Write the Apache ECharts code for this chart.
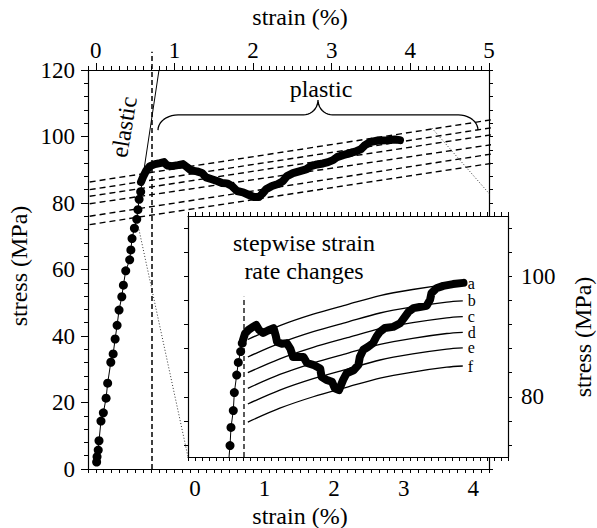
<!DOCTYPE html>
<html><head><meta charset="utf-8">
<script src="https://cdn.jsdelivr.net/npm/echarts@6/dist/echarts.min.js"></script>
<style>html,body{margin:0;padding:0;background:#fff}#c{width:597px;height:528px}</style>
</head><body><div id="c"></div>
<script>
// ---------- main chart data (strain %, stress MPa) ----------
const mainElasticStrain = [0.01,0.015,0.03,0.04,0.065,0.095,0.13,0.15,0.19,0.22,0.245,0.27,0.295,0.33,0.35,0.38,0.43,0.445,0.46,0.49,0.52,0.535,0.55,0.57];
const mainElasticStress = [2.1,3.7,5.7,8.5,14.4,16.9,21.3,25.8,32.1,34.6,39.1,43.2,47.8,51.8,55.3,59.6,62.9,65.9,69.3,72.4,75.1,78.0,81.1,83.4];
const elasticFitStrain = [0.57,0.803];
const elasticFitStress = [83.4,120];
const mainPlasticStrain = [0.574,0.600,0.638,0.689,0.752,0.816,0.867,0.905,0.968,1.045,1.108,1.159,1.210,1.286,1.350,1.401,1.465,1.541,1.604,1.668,1.731,1.795,1.872,1.948,2.011,2.075,2.113,2.164,2.240,2.317,2.380,2.431,2.507,2.597,2.673,2.736,2.813,2.889,2.953,3.016,3.067,3.143,3.232,3.308,3.372,3.423,3.486,3.588,3.702,3.804,3.868];
const mainPlasticStress = [86.3,87.8,89.6,91.1,91.7,92.0,92.3,91.3,91.1,91.4,91.7,90.8,89.8,89.5,89.0,87.7,87.2,86.6,86.0,85.9,85.1,83.6,83.2,82.4,81.8,81.8,82.7,84.1,85.1,85.7,86.6,88.1,89.0,89.6,90.1,91.1,91.6,91.9,92.3,92.9,93.8,94.4,95.0,95.5,96.2,97.4,98.3,98.8,98.9,99.1,98.9];
// dashed constant-rate lines: stress at left end and right end
const dashStrainEnds = [-0.33, 5.08];
const dashStressLeft  = [85.4, 83.1, 81.1, 78.9, 75.1, 72.6];
const dashStressRight = [105.2, 102.8, 100.7, 97.7, 94.9, 92.1];
const yieldStrainMain = 0.714;
// ---------- inset data ----------
const insetElasticStrain = [0.49,0.504,0.518,0.551,0.566,0.60,0.623,0.657,0.68];
const insetElasticStress = [70,71.9,74.9,77.7,80.7,83.6,85.7,87.5,88.9];
const insetPlasticStrain = [0.69,0.72,0.77,0.82,0.88,0.92,0.98,1.05,1.13,1.16,1.18,1.25,1.32,1.37,1.41,1.56,1.61,1.70,1.80,1.82,1.89,1.97,2.01,2.07,2.13,2.18,2.28,2.35,2.37,2.42,2.49,2.56,2.61,2.66,2.73,2.85,2.95,3.02,3.07,3.14,3.23,3.33,3.38,3.40,3.47,3.57,3.71,3.86];
const insetPlasticStress = [89.4,90.5,91.1,91.5,91.9,91.1,90.6,91.0,91.4,90.2,89.1,88.8,88.9,88.0,86.6,86.6,85.6,85.3,84.7,83.3,82.8,82.5,81.4,81.1,82.8,83.9,84.4,85.3,86.6,87.8,88.3,88.9,90.0,90.8,91.4,91.6,92.2,93.3,94.1,94.7,94.9,95.1,96.1,97.2,98.0,98.4,98.7,98.9];
const rateCurveStrain = [0.76,1.22,1.70,2.19,2.66,3.13,3.62,3.85];
const rateCurveNames = ['a','b','c','d','e','f'];
const rateCurveA = [89.5,91.8,93.7,95.3,96.8,97.8,98.6,98.8];
const rateCurveB = [86.6,88.9,90.8,92.4,93.9,94.9,95.7,95.9];
const rateCurveC = [84.0,86.3,88.2,89.8,91.3,92.3,93.1,93.3];
const rateCurveD = [81.4,83.7,85.6,87.2,88.7,89.7,90.5,90.7];
const rateCurveE = [78.8,81.1,83.0,84.6,86.1,87.1,87.9,88.1];
const rateCurveF = [75.8,78.1,80.0,81.6,83.1,84.1,84.9,85.1];
const yieldStrainInset = 0.705;
// ---------- tick labels ----------
const mainStrainLabels = [0,1,2,3,4,5];
const mainStressLabels = [0,20,40,60,80,100,120];
const insetStrainLabels = [0,1,2,3,4];
const insetStressLabels = [80,100];

const F = 'Liberation Serif';
function steps(a, b, s) { const r = []; for (let v = a; v <= b + 1e-9; v += s) r.push(+v.toFixed(4)); return r; }
const zip = (xs, ys) => xs.map((x, i) => [x, ys[i]]);

const mainStrainTicks = steps(-0.1, 5, 0.1);
const mainStressTicks = steps(0, 120, 4);
const insetStrainTicks = steps(-0.1, 4.5, 0.1);
const insetStressTicks = steps(72, 108, 4);

function ax(o) {
  return Object.assign({
    type: 'value', splitLine: {show: false},
    axisLine: {show: o.line !== false, onZero: false, lineStyle: {color: '#000', width: 1.2}},
    axisTick: {show: true, inside: false, length: o.len || 4, customValues: o.ticks, lineStyle: {color: '#000', width: 1}},
    axisLabel: o.labels ? {show: true, customValues: o.labels, margin: o.margin || 8, fontFamily: F, fontSize: 23, color: '#000'} : {show: false}
  }, o.base);
}

// brace built from quarter-ellipse arcs (annotation shape)
function arc(cx, cy, rx, ry, a0, a1) {
  const pts = []; const n = 10;
  for (let i = 0; i <= n; i++) { const t = (a0 + (a1 - a0) * i / n) * Math.PI / 180; pts.push([cx + rx * Math.cos(t), cy + ry * Math.sin(t)]); }
  return pts;
}
const braceLeft = 0.79, braceCusp = 2.825, braceRight = 4.86, braceLow = 101.9, braceMid = 106.5, braceTop = 111;
const brace = [].concat(
  arc(1.045, braceLow, 1.045 - braceLeft, braceMid - braceLow, 180, 90),
  arc(2.64, braceTop, braceCusp - 2.64, braceTop - braceMid, 270, 360),
  arc(3.01, braceTop, 3.01 - braceCusp, braceTop - braceMid, 180, 270),
  arc(4.61, braceLow, braceRight - 4.61, braceMid - braceLow, 90, 0)
);
const zoomLineA = [[0.54, 72.9], [1.172, 3.6]];
const zoomLineB = [[4.275, 102.5], [5.24, 76.4]];

const series = [];
const M = {xAxisIndex: 0, yAxisIndex: 0};
const I = {xAxisIndex: 2, yAxisIndex: 2, z: 7};
dashStressLeft.forEach((v, i) => series.push(Object.assign({type: 'line', symbol: 'none', clip: false, z: 2,
  data: [[dashStrainEnds[0], v], [dashStrainEnds[1], dashStressRight[i]]],
  lineStyle: {color: '#000', width: 1.4, type: [6, 4]}}, M)));
series.push(Object.assign({type: 'line', symbol: 'none', clip: false, z: 2, data: [[yieldStrainMain, 0], [yieldStrainMain, 125.5]],
  lineStyle: {color: '#000', width: 1.5, type: [5, 3]}}, M));
series.push(Object.assign({type: 'line', symbol: 'none', clip: false, z: 2, data: zip(elasticFitStrain, elasticFitStress),
  lineStyle: {color: '#000', width: 1}}, M));
series.push(Object.assign({type: 'line', symbol: 'circle', symbolSize: 9, z: 3, data: zip(mainElasticStrain, mainElasticStress),
  itemStyle: {color: '#000'}, lineStyle: {color: '#000', width: 1}}, M));
series.push(Object.assign({type: 'line', symbol: 'none', z: 4, data: zip(mainPlasticStrain, mainPlasticStress),
  lineStyle: {color: '#000', width: 8, cap: 'round', join: 'round'}}, M));
series.push(Object.assign({type: 'line', symbol: 'none', clip: false, z: 2, data: brace,
  lineStyle: {color: '#000', width: 1.3}}, M));
[zoomLineA, zoomLineB].forEach(d => series.push(Object.assign({type: 'line', symbol: 'none', clip: false, z: 2, data: d,
  lineStyle: {color: '#333', width: 1, type: [1, 2]}}, M)));
// inset
const rateCurves = [rateCurveA, rateCurveB, rateCurveC, rateCurveD, rateCurveE, rateCurveF];
rateCurves.forEach((c, i) => series.push(Object.assign({type: 'line', name: rateCurveNames[i], symbol: 'none', smooth: 0.3,
  data: zip(rateCurveStrain, c), lineStyle: {color: '#000', width: 1.3},
  endLabel: {show: true, formatter: '{a}', distance: 5, fontFamily: F, fontSize: 16, lineHeight: 13, color: '#000'}}, I)));
series.push(Object.assign({type: 'line', symbol: 'none', data: [[yieldStrainInset, 70], [yieldStrainInset, 96.6]],
  lineStyle: {color: '#000', width: 1.3, type: [5, 3]}}, I));
series.push(Object.assign({type: 'line', symbol: 'circle', symbolSize: 9,
  data: zip(insetElasticStrain, insetElasticStress).map((p, i) => i === 0 ? {value: p, symbol: 'none'} : p),
  itemStyle: {color: '#000'}, lineStyle: {color: '#000', width: 1}}, I));
series.push(Object.assign({type: 'line', symbol: 'none', data: zip(insetPlasticStrain, insetPlasticStress),
  lineStyle: {color: '#000', width: 8, cap: 'round', join: 'round'}}, I, {z: 8}));

function txt(t, x, y, o) {
  return Object.assign({type: 'text', x: x, y: y, z: 20,
    style: {text: t, fontFamily: F, fontSize: 24, fill: '#000', align: 'center', verticalAlign: 'middle'}}, o || {});
}

const option = {
  animation: false,
  backgroundColor: '#fff',
  grid: [
    {left: 88, top: 70, width: 401, height: 399, z: 0},
    {left: 188, top: 216, width: 320, height: 241, show: true, backgroundColor: '#fff', borderWidth: 0, z: 5},
    {left: 88, top: 70, width: 401, height: 399, z: 0}
  ],
  xAxis: [
    ax({ticks: mainStrainTicks, labels: mainStrainLabels, base: {gridIndex: 0, position: 'top', min: -0.1, max: 5, z: 1}}),
    ax({ticks: mainStrainTicks, base: {gridIndex: 0, position: 'bottom', min: -0.1, max: 5, z: 1}}),
    ax({ticks: insetStrainTicks, labels: insetStrainLabels, margin: 20, base: {gridIndex: 1, position: 'bottom', min: -0.1, max: 4.5, z: 6}}),
    ax({ticks: insetStrainTicks, base: {gridIndex: 1, position: 'top', min: -0.1, max: 4.5, z: 6}}),
    ax({ticks: mainStrainLabels, len: 7, line: false, base: {gridIndex: 2, position: 'top', min: -0.1, max: 5, z: 1}})
  ],
  yAxis: [
    ax({ticks: mainStressTicks, labels: mainStressLabels, margin: 13, base: {gridIndex: 0, position: 'left', min: 0, max: 120, z: 1}}),
    ax({ticks: mainStressTicks, base: {gridIndex: 0, position: 'right', min: 0, max: 120, z: 1}}),
    ax({ticks: insetStressTicks, base: {gridIndex: 1, position: 'left', min: 70, max: 110, z: 6}}),
    ax({ticks: insetStressTicks, labels: insetStressLabels, margin: 13, base: {gridIndex: 1, position: 'right', min: 70, max: 110, z: 6}}),
    ax({ticks: mainStressLabels, len: 7, line: false, base: {gridIndex: 2, position: 'left', min: 0, max: 120, z: 1}})
  ],
  graphic: [
    txt('strain (%)', 300, 17),
    txt('strain (%)', 300, 516),
    txt('stress (MPa)', 19, 266, {rotation: Math.PI / 2}),
    txt('stress (MPa)', 583, 337, {rotation: Math.PI / 2}),
    txt('plastic', 321, 89),
    txt('elastic', 124, 127, {rotation: 1.405}),
    txt('stepwise strain', 304, 243),
    txt('rate changes', 304, 271)
  ],
  series: series
};
const chart = echarts.init(document.getElementById('c'), null, {renderer: 'svg'});
chart.setOption(option);
</script>
</body></html>
